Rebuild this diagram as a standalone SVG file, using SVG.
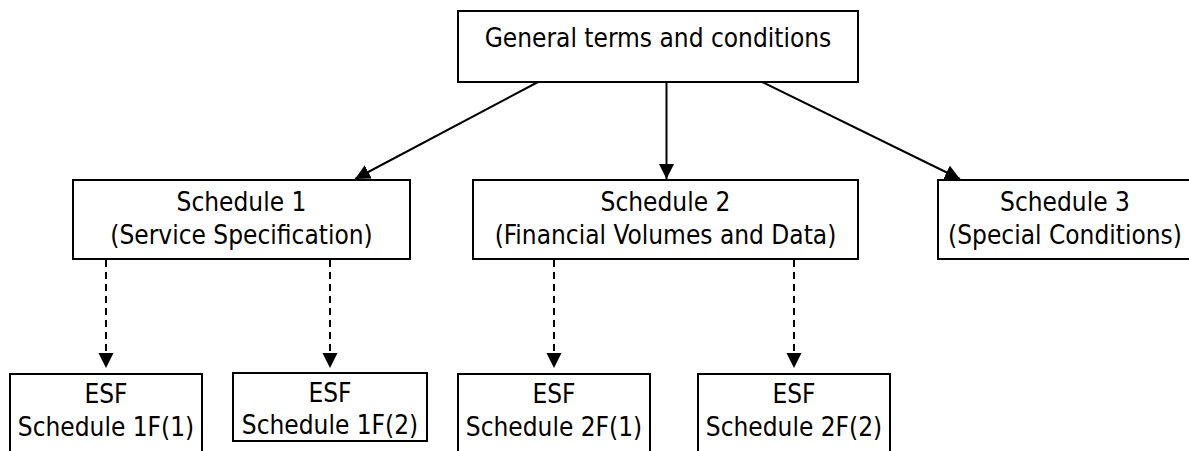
<svg xmlns="http://www.w3.org/2000/svg" width="1189" height="451" viewBox="0 0 1189 451">
<style>
.box{fill:#fff;stroke:#000;stroke-width:2}
.t{font-family:"DejaVu Sans Condensed","DejaVu Sans",sans-serif;font-size:26px;fill:#000;text-anchor:middle}
.c{stroke:#000;stroke-width:2;fill:none}
.d{stroke-dasharray:7,5}
</style>
<defs>
<marker id="ah" markerUnits="userSpaceOnUse" markerWidth="16" markerHeight="16" refX="15" refY="7.5" orient="auto">
<path d="M0,0 L15,7.5 L0,15 z" fill="#000"/>
</marker>
</defs>
<rect width="1189" height="451" fill="#fff"/>
<g id="connectors">
<line class="c" x1="538" y1="82" x2="355" y2="179" marker-end="url(#ah)"/>
<line class="c" x1="666.5" y1="82" x2="666.5" y2="179" marker-end="url(#ah)"/>
<line class="c" x1="762" y1="82" x2="960" y2="179" marker-end="url(#ah)"/>
<line class="c d" x1="106" y1="260" x2="106" y2="368" marker-end="url(#ah)"/>
<line class="c d" x1="330" y1="260" x2="330" y2="368" marker-end="url(#ah)"/>
<line class="c d" x1="554" y1="260" x2="554" y2="368" marker-end="url(#ah)"/>
<line class="c d" x1="794" y1="260" x2="794" y2="368" marker-end="url(#ah)"/>
</g>
<g id="general">
<rect class="box" x="458" y="11" width="400" height="71"/>
<text class="t" x="658" y="47">General terms and conditions</text>
</g>
<g id="schedule1">
<rect class="box" x="73" y="180" width="337" height="79"/>
<text class="t" x="241.5" y="211">Schedule 1</text>
<text class="t" x="241.5" y="244">(Service Specification)</text>
</g>
<g id="schedule2">
<rect class="box" x="473" y="180" width="385" height="79"/>
<text class="t" x="665.5" y="211">Schedule 2</text>
<text class="t" x="665.5" y="244">(Financial Volumes and Data)</text>
</g>
<g id="schedule3">
<rect class="box" x="938" y="180" width="254" height="79"/>
<text class="t" x="1065" y="211">Schedule 3</text>
<text class="t" x="1065" y="244">(Special Conditions)</text>
</g>
<g id="esf1f1">
<rect class="box" x="10" y="374" width="192" height="90"/>
<text class="t" x="106" y="403">ESF</text>
<text class="t" x="106" y="436">Schedule 1F(1)</text>
</g>
<g id="esf1f2">
<rect class="box" x="233" y="373" width="194" height="68"/>
<text class="t" x="330" y="402">ESF</text>
<text class="t" x="330" y="434">Schedule 1F(2)</text>
</g>
<g id="esf2f1">
<rect class="box" x="458" y="374" width="192" height="90"/>
<text class="t" x="554" y="403">ESF</text>
<text class="t" x="554" y="436">Schedule 2F(1)</text>
</g>
<g id="esf2f2">
<rect class="box" x="698" y="374" width="192" height="90"/>
<text class="t" x="794" y="403">ESF</text>
<text class="t" x="794" y="436">Schedule 2F(2)</text>
</g>
</svg>
